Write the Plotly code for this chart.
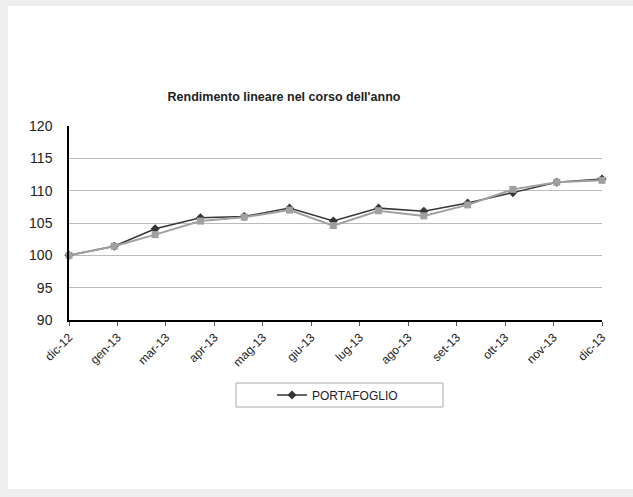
import pandas as pd
import plotly.graph_objects as go

# ---- data ----
dates = ["2012-12-31", "2013-01-31", "2013-02-28", "2013-03-31", "2013-04-30",
         "2013-05-31", "2013-06-30", "2013-07-31", "2013-08-31", "2013-09-30",
         "2013-10-31", "2013-11-30", "2013-12-31"]
portafoglio = [100.0, 101.4, 104.1, 105.8, 106.0, 107.3, 105.3, 107.3, 106.8, 108.1, 109.7, 111.3, 111.8]
benchmark = [100.0, 101.4, 103.2, 105.3, 105.9, 107.0, 104.6, 106.9, 106.1, 107.8, 110.2, 111.3, 111.6]
tick_labels = ["dic-12", "gen-13", "mar-13", "apr-13", "mag-13", "giu-13",
               "lug-13", "ago-13", "set-13", "ott-13", "nov-13", "dic-13"]
title_text = "Rendimento lineare nel corso dell'anno"

FONT = "Liberation Sans, Arial, sans-serif"
W, H = 633, 497
L, R, T, B = 69, 31, 126, 177
PW, PH = W - L - R, H - T - B

def px_x(p):
    return (p - L) / PW

def px_y(p):
    return (H - B - p) / PH

start = pd.Timestamp(dates[0])
end = pd.Timestamp(dates[-1])
tick_vals = pd.date_range(start, end, periods=len(tick_labels))

fig = go.Figure()
fig.add_trace(go.Scatter(
    x=dates, y=portafoglio, name="PORTAFOGLIO", mode="lines+markers",
    line=dict(color="#353535", width=1.5),
    marker=dict(symbol="diamond", size=7, color="#353535"),
    cliponaxis=False,
))
fig.add_trace(go.Scatter(
    x=dates, y=benchmark, name="BENCHMARK", mode="lines+markers", showlegend=False,
    line=dict(color="#a0a0a0", width=2),
    marker=dict(symbol="square", size=7, color="#a0a0a0"),
    cliponaxis=False,
))

fig.update_layout(
    width=W, height=H,
    margin=dict(l=L, r=R, t=T, b=B),
    paper_bgcolor="#eeeeee",
    plot_bgcolor="white",
    font=dict(family=FONT, color="#222222"),
    title=dict(text="<b>" + title_text + "</b>", x=px_x(284), xref="paper", xanchor="center",
               y=1 - 97 / H, yanchor="middle", font=dict(size=12.5, color="#222222")),
    showlegend=True,
    legend=dict(orientation="h", x=px_x(272), xanchor="left", y=px_y(395), yanchor="middle",
                bgcolor="rgba(0,0,0,0)", borderwidth=0, itemwidth=30,
                font=dict(size=12, color="#222222")),
    shapes=[
        dict(type="rect", xref="paper", yref="paper", layer="below",
             x0=px_x(8), x1=px_x(640), y0=px_y(489), y1=px_y(6),
             fillcolor="white", line=dict(width=0)),
        dict(type="rect", xref="paper", yref="paper",
             x0=px_x(236), x1=px_x(443), y0=px_y(407), y1=px_y(383),
             fillcolor="rgba(0,0,0,0)", line=dict(color="#aaaaaa", width=1)),
    ],
)

fig.update_xaxes(
    type="date", range=[start, end],
    tickmode="array", tickvals=tick_vals, ticktext=tick_labels,
    tickangle=-45, tickfont=dict(size=12, color="#222222"),
    showgrid=False, showline=True, linecolor="#000000", linewidth=1.5,
    ticks="outside", ticklen=4, tickcolor="#555555",
    zeroline=False,
)
fig.update_yaxes(
    range=[90, 120], dtick=5, tick0=90,
    tickfont=dict(size=14, color="#222222"),
    showgrid=True, gridcolor="#bbbbbb", gridwidth=1,
    showline=True, linecolor="#000000", linewidth=1.5,
    ticks="", ticklabelstandoff=12,
    zeroline=False,
)

fig.write_html(
    "out.html",
    config={"displayModeBar": False},
    post_script="document.body.style.margin='0';document.body.style.background='#eeeeee';document.body.style.overflow='hidden';",
)
